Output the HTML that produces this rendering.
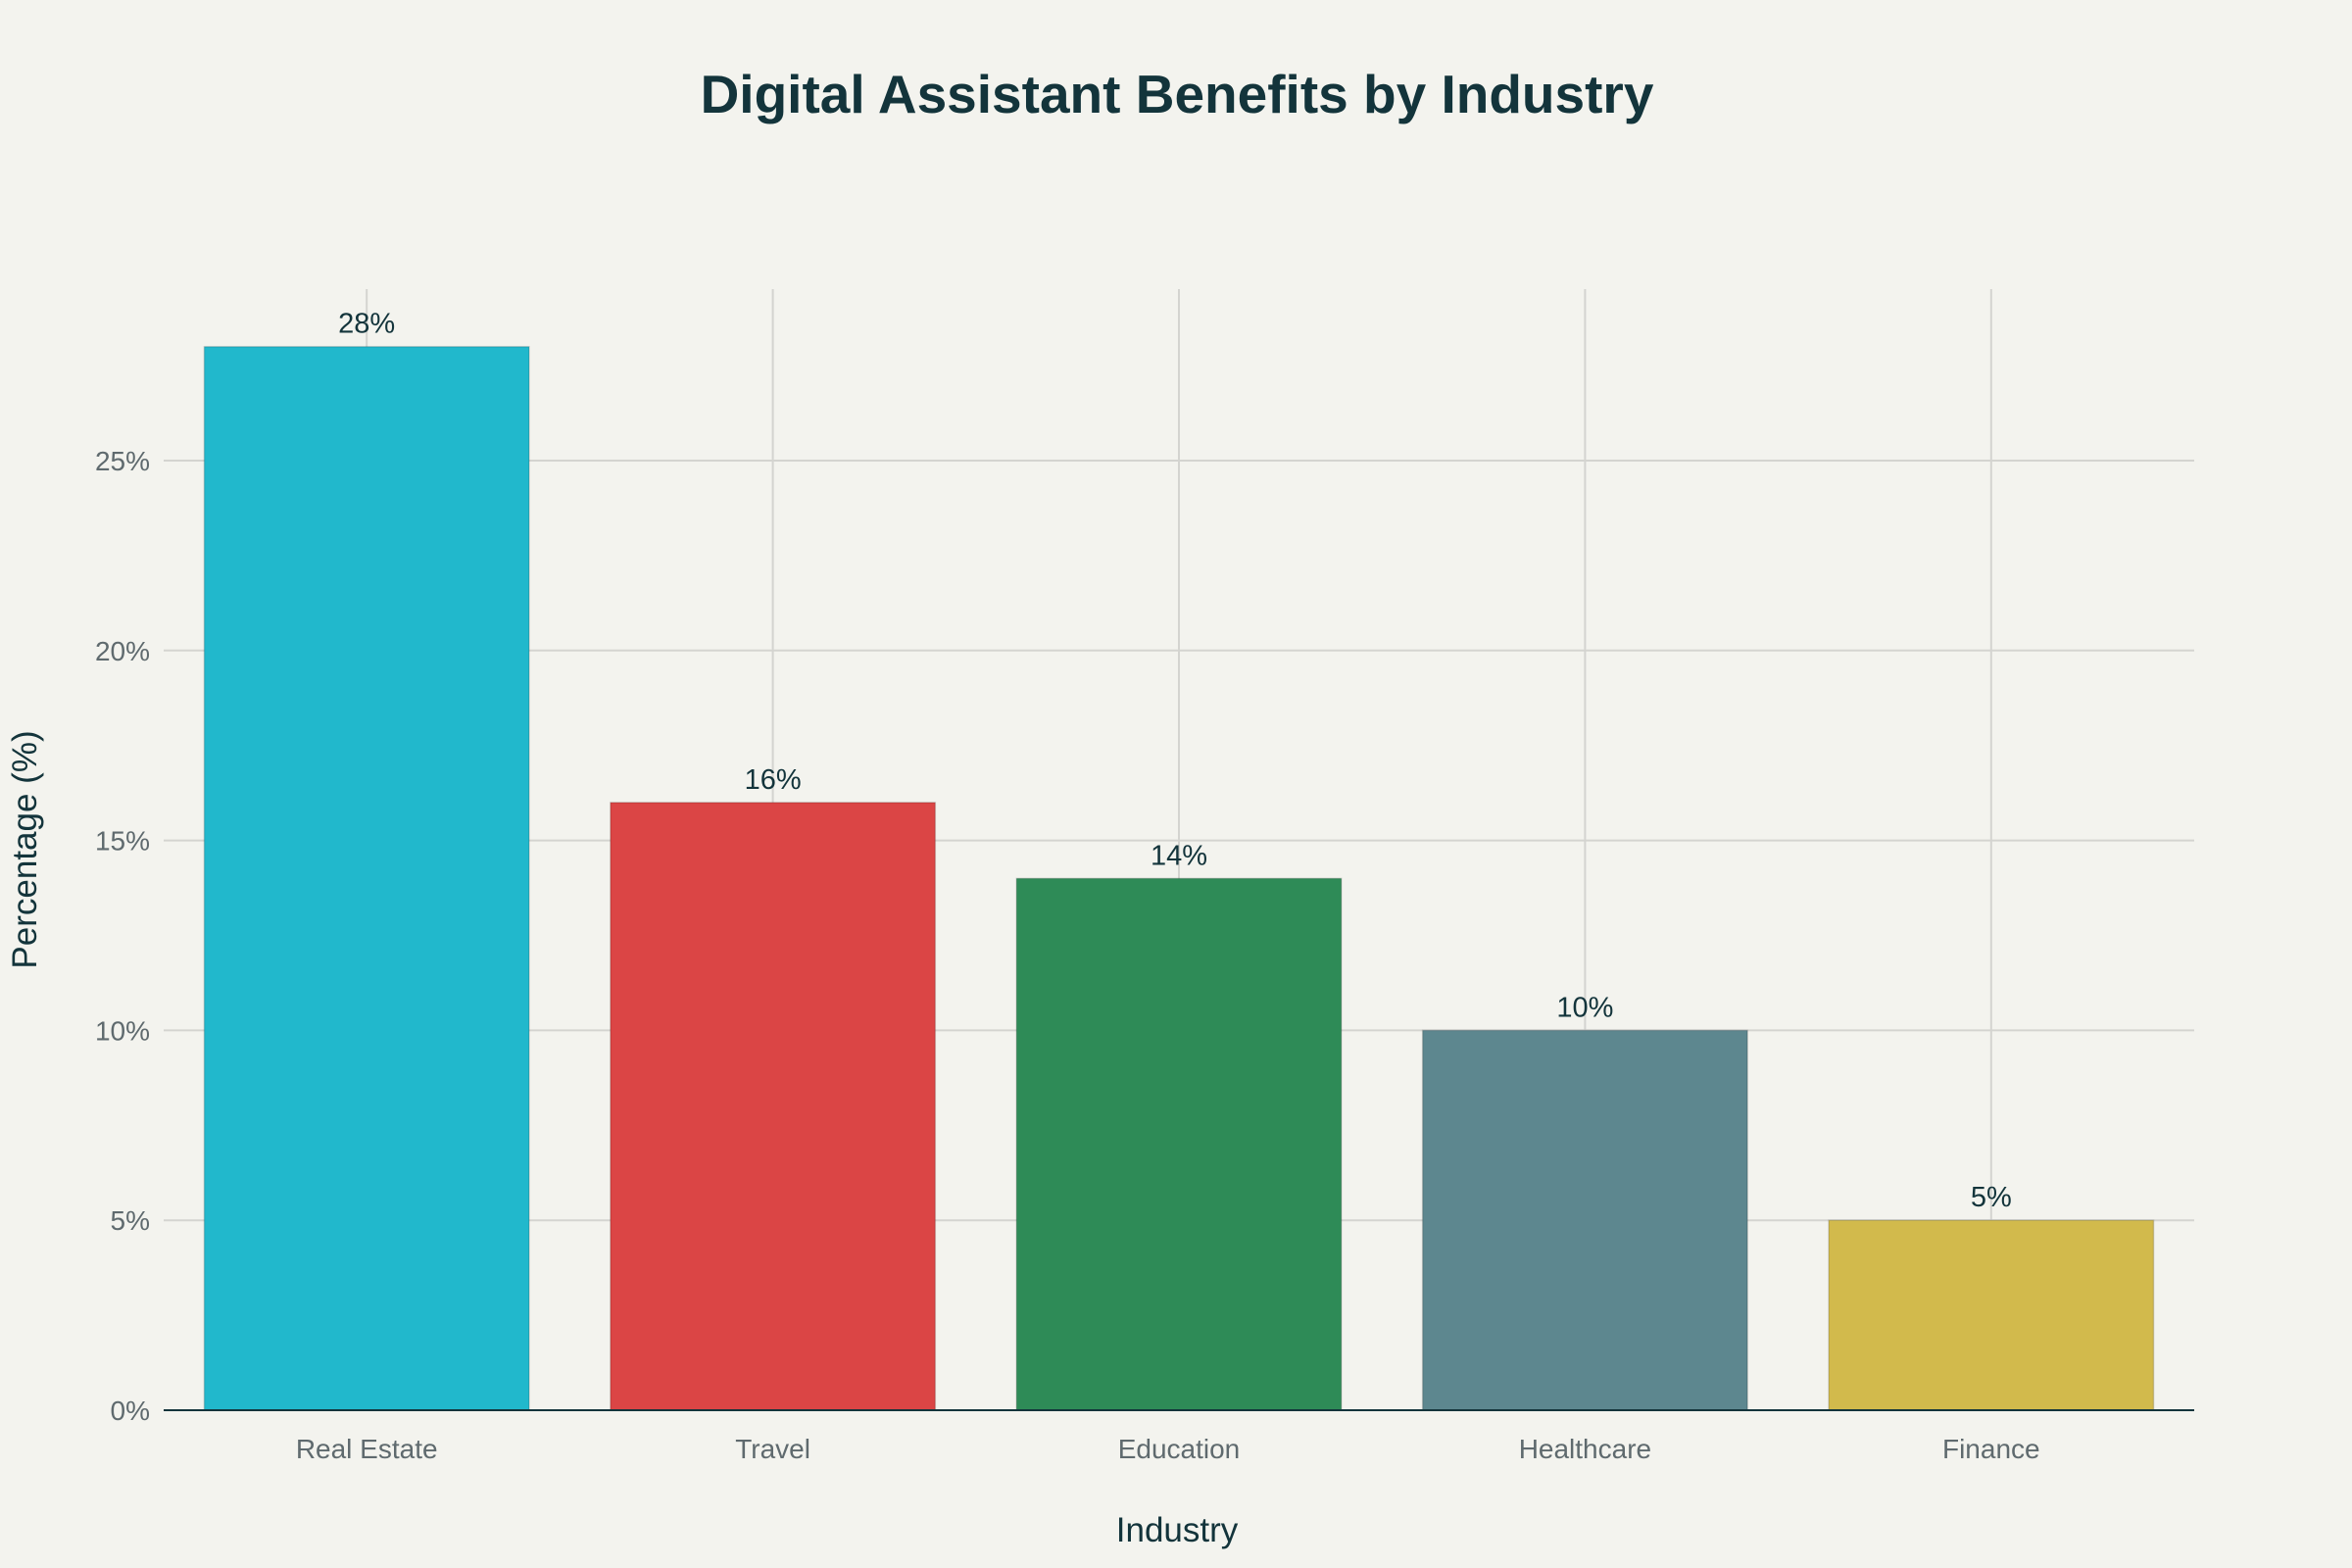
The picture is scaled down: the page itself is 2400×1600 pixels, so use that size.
<!DOCTYPE html>
<html><head><meta charset="utf-8"><style>
html,body{margin:0;padding:0;background:#f3f3ee;}
svg{display:block;font-family:"Liberation Sans",sans-serif;}
</style></head><body>
<svg id="chart" width="2400" height="1600" viewBox="0 0 2400 1600">
<rect width="2400" height="1600" fill="#f3f3ee"/>
<text x="1201" y="115" text-anchor="middle" font-size="55" font-weight="bold" fill="#13343b">Digital Assistant Benefits by Industry</text>
<g id="grid"></g><g id="bars"></g><g id="labels"></g>
<text x="1201" y="1573" text-anchor="middle" font-size="35" fill="#13343b">Industry</text>
<text transform="translate(37,867) rotate(-90)" text-anchor="middle" font-size="35" fill="#13343b">Percentage (%)</text>
</svg>
<script>
const categories = ["Real Estate","Travel","Education","Healthcare","Finance"];
const values = [28,16,14,10,5];
const valueLabels = ["28%","16%","14%","10%","5%"];
const yTicks = [0,5,10,15,20,25];
const colors = ["#21b8cc","#db4545","#2e8b57","#5d878f","#d2ba4c"];
const NS="http://www.w3.org/2000/svg";
const plotLeft=167,plotRight=2239,plotBottom=1439,plotTop=295;
const pxPer5=193.8;
function yScale(v){return plotBottom - v/5*pxPer5;}
const band=(plotRight-plotLeft)/categories.length;
function xc(i){return plotLeft+band*(i+0.5);}
function mk(tag,attrs,parent){const e=document.createElementNS(NS,tag);for(const k in attrs)e.setAttribute(k,attrs[k]);parent.appendChild(e);return e;}
const gridG=document.getElementById('grid'),barsG=document.getElementById('bars'),labelsG=document.getElementById('labels');
yTicks.forEach(t=>{
  if(t>0){const l=mk('line',{x1:plotLeft,x2:plotRight,y1:yScale(t),y2:yScale(t),stroke:'#d4d4d0','stroke-width':2},gridG);
  
  }
  const tx=mk('text',{x:plotLeft-14,y:yScale(t)+10,'text-anchor':'end','font-size':28,fill:'#5f6a6e'},gridG);
  tx.textContent=t+'%';
  
  
});
categories.forEach((c,i)=>{
  const g=mk('line',{x1:xc(i),x2:xc(i),y1:plotTop,y2:plotBottom,stroke:'#d4d4d0','stroke-width':2},gridG);
  
  
  const w=band*0.8;
  const r=mk('rect',{x:xc(i)-w/2,y:yScale(values[i]),width:w,height:plotBottom-yScale(values[i]),fill:colors[i],stroke:'rgba(0,0,0,0.15)','stroke-width':1.5},barsG);
  
  
  const vl=mk('text',{x:xc(i),y:yScale(values[i])-14,'text-anchor':'middle','font-size':29,fill:'#13343b'},labelsG);
  vl.textContent=valueLabels[i];
  
  
  const xl=mk('text',{x:xc(i),y:plotBottom+49,'text-anchor':'middle','font-size':28,fill:'#5f6a6e'},labelsG);
  xl.textContent=c;
  
  
});
const ax=mk('line',{x1:plotLeft,x2:plotRight,y1:plotBottom,y2:plotBottom,stroke:'#13343b','stroke-width':2},labelsG);


</script>
</body></html>
